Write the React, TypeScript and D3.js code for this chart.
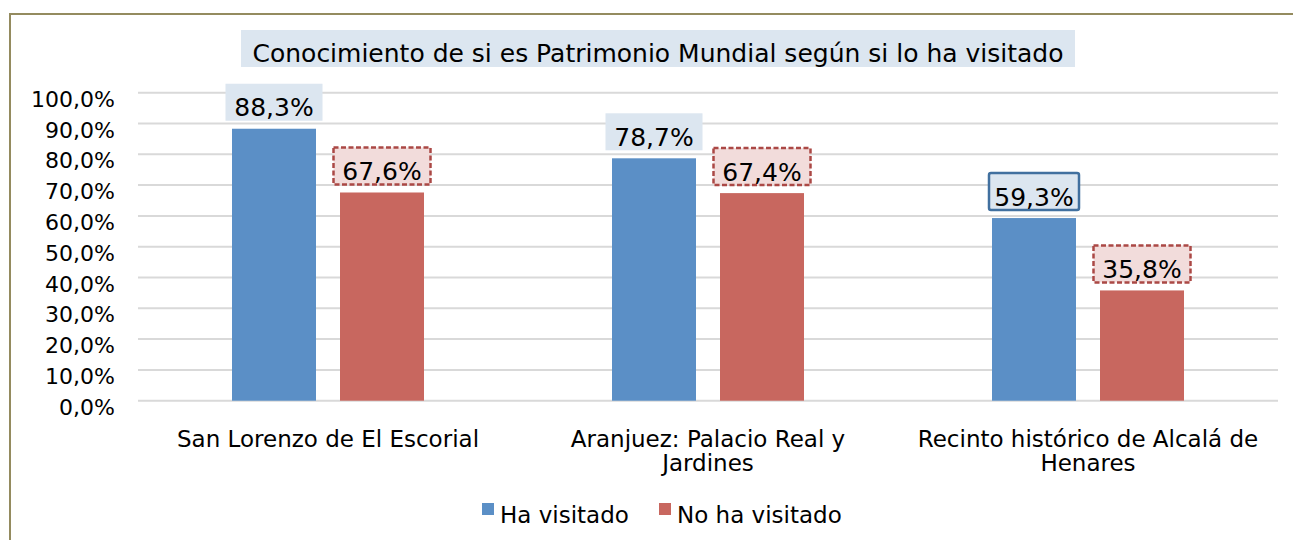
import * as d3 from "d3";
import { useEffect, useRef } from "react";

const categories = [
  ["San Lorenzo de El Escorial"],
  ["Aranjuez: Palacio Real y", "Jardines"],
  ["Recinto histórico de Alcalá de", "Henares"],
];
const seriesNames = ["Ha visitado", "No ha visitado"];
const haVisitado = [88.3, 78.7, 59.3];
const noHaVisitado = [67.6, 67.4, 35.8];
const yTicks = [0, 10, 20, 30, 40, 50, 60, 70, 80, 90, 100];
const title = "Conocimiento de si es Patrimonio Mundial según si lo ha visitado";

const colors = ["#5b8fc6", "#c8675f"];
const font = "DejaVu Sans, Verdana, sans-serif";

export default function App() {
  const svgRef = useRef<SVGSVGElement>(null);
  const width = 1293;
  const height = 540;

  useEffect(() => {
    const svg = d3.select(svgRef.current);
    svg.selectAll("*").remove();

    const fmt = (v: number) => d3.format(".1f")(v).replace(".", ",") + "%";

    const x0 = d3.scaleBand<number>().domain(d3.range(categories.length)).range([138, 1278]);
    // two bars of ~84px with a 24px gap, centred in each category band
    const x1 = d3.scaleBand<number>().domain([0, 1]).range([94, 286]).paddingInner(24 / 108);
    const y = d3.scaleLinear().domain([0, 100]).range([400.7, 92.7]);

    // outer frame (top + left only)
    svg.append("path")
      .attr("d", "M10,540 V14 H1293")
      .attr("fill", "none")
      .attr("stroke", "#948b5f")
      .attr("stroke-width", 2);

    // gridlines
    svg.append("g").selectAll("line").data(yTicks).join("line")
      .attr("x1", 138).attr("x2", 1278)
      .attr("y1", d => y(d)).attr("y2", d => y(d))
      .attr("stroke", "#d9d9d9").attr("stroke-width", 2);

    // y tick labels (sit a bit below their gridline, as in the original)
    svg.append("g").selectAll("text").data(yTicks).join("text")
      .attr("x", 115).attr("y", d => y(d) + 14)
      .attr("text-anchor", "end")
      .attr("font-family", font).attr("font-size", 22).attr("fill", "#000")
      .text(d => fmt(d));

    // title
    const tg = svg.append("g");
    tg.append("rect").attr("x", 241).attr("y", 30).attr("width", 834).attr("height", 37).attr("fill", "#dce6f0");
    tg.append("text").attr("x", 658).attr("y", 62).attr("text-anchor", "middle")
      .attr("font-family", font).attr("font-size", 25).attr("fill", "#000").text(title);

    const series = [haVisitado, noHaVisitado];
    // bars
    series.forEach((vals, s) => {
      svg.append("g").selectAll("rect").data(vals).join("rect")
        .attr("x", (_, i) => x0(i)! + x1(s)!)
        .attr("width", x1.bandwidth())
        .attr("y", d => y(d))
        .attr("height", d => y(0) - y(d))
        .attr("fill", colors[s]);
    });

    // data labels
    series.forEach((vals, s) => {
      vals.forEach((v, i) => {
        const cx = x0(i)! + x1(s)! + x1.bandwidth() / 2;
        const top = y(v);
        const bw = 97, bh = 37;
        const g = svg.append("g");
        const r = g.append("rect")
          .attr("x", cx - bw / 2).attr("y", top - 8 - bh)
          .attr("width", bw).attr("height", bh);
        if (s === 0) {
          r.attr("fill", "#dce6f0");
          if (i === 2) r.attr("stroke", "#41709f").attr("stroke-width", 2.5).attr("rx", 2)
            .attr("x", cx - 45).attr("width", 90);
        } else {
          r.attr("fill", "#f2dcdb").attr("stroke", "#ab4845").attr("stroke-width", 2.5)
            .attr("stroke-dasharray", "5,2.5");
        }
        g.append("text").attr("x", cx).attr("y", top - 12.5)
          .attr("text-anchor", "middle")
          .attr("font-family", font).attr("font-size", 25).attr("fill", "#000")
          .text(fmt(v));
      });
    });

    // category labels
    categories.forEach((lines, i) => {
      const cx = x0(i)! + x0.bandwidth() / 2;
      lines.forEach((ln, j) => {
        svg.append("text").attr("x", cx).attr("y", 447 + j * 24)
          .attr("text-anchor", "middle")
          .attr("font-family", font).attr("font-size", 23).attr("fill", "#000").text(ln);
      });
    });

    // legend
    const legendX = [482, 659];
    seriesNames.forEach((name, s) => {
      svg.append("rect").attr("x", legendX[s]).attr("y", 503).attr("width", 12).attr("height", 12).attr("fill", colors[s]);
      svg.append("text").attr("x", legendX[s] + 18).attr("y", 523)
        .attr("font-family", font).attr("font-size", 23).attr("fill", "#000").text(name);
    });
  }, []);

  return (
    <svg
      ref={svgRef}
      width={width}
      height={height}
      style={{ position: "absolute", left: 0, top: 0, background: "#fff" }}
    />
  );
}
